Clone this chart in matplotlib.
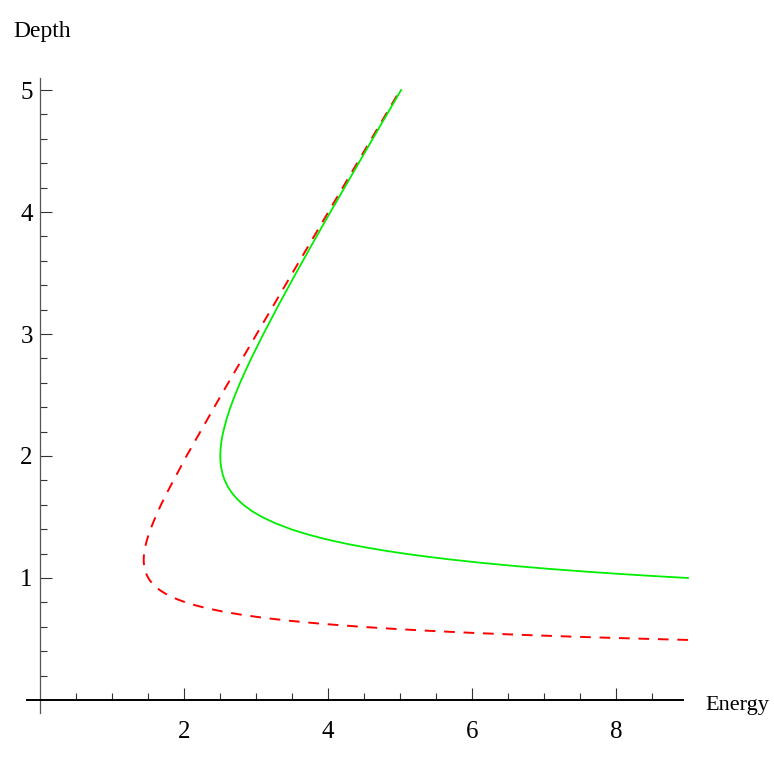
import matplotlib
matplotlib.use("Agg")
import matplotlib.pyplot as plt
from matplotlib.ticker import FixedLocator

# ---- data ----
green_energy = [9.000, 8.698, 8.411, 8.007, 7.632, 7.065, 6.564, 6.119, 5.724, 5.372,
                5.058, 4.778, 4.527, 4.302, 4.101, 3.921, 3.759, 3.613, 3.482, 3.260,
                3.080, 2.936, 2.821, 2.729, 2.658, 2.603, 2.562, 2.533, 2.514, 2.503,
                2.500, 2.503, 2.511, 2.524, 2.542, 2.586, 2.641, 2.705, 2.775, 2.851,
                2.930, 3.099, 3.322, 3.553, 3.790, 4.031, 4.520, 5.013]
green_depth = [1.000, 1.010, 1.020, 1.035, 1.050, 1.075, 1.100, 1.125, 1.150, 1.175,
               1.200, 1.225, 1.250, 1.275, 1.300, 1.325, 1.350, 1.375, 1.400, 1.450,
               1.500, 1.550, 1.600, 1.650, 1.700, 1.750, 1.800, 1.850, 1.900, 1.950,
               2.000, 2.050, 2.100, 2.150, 2.200, 2.300, 2.400, 2.500, 2.600, 2.700,
               2.800, 3.000, 3.250, 3.500, 3.750, 4.000, 4.500, 5.000]

red_energy = [9.000, 8.500, 7.901, 7.358, 6.638, 6.014, 5.472, 4.998, 4.458, 3.902,
              3.451, 3.084, 2.782, 2.535, 2.330, 2.161, 2.021, 1.904, 1.808, 1.728,
              1.662, 1.608, 1.564, 1.528, 1.500, 1.478, 1.461, 1.449, 1.442, 1.437,
              1.436, 1.437, 1.441, 1.455, 1.475, 1.501, 1.530, 1.599, 1.676, 1.760,
              2.031, 2.513, 3.006, 3.503, 4.002, 4.501, 5.001]
red_depth = [0.4923, 0.500, 0.510, 0.520, 0.535, 0.550, 0.565, 0.580, 0.600, 0.625,
             0.650, 0.675, 0.700, 0.725, 0.750, 0.775, 0.800, 0.825, 0.850, 0.875,
             0.900, 0.925, 0.950, 0.975, 1.000, 1.025, 1.050, 1.075, 1.100, 1.125,
             1.150, 1.175, 1.200, 1.250, 1.300, 1.350, 1.400, 1.500, 1.600, 1.700,
             2.000, 2.500, 3.000, 3.500, 4.000, 4.500, 5.000]

x_major = [2, 4, 6, 8]
y_major = [1, 2, 3, 4, 5]
x_minor = [0.5, 1, 1.5, 2.5, 3, 3.5, 4.5, 5, 5.5, 6.5, 7, 7.5, 8.5]
y_minor = [0.2, 0.4, 0.6, 0.8, 1.2, 1.4, 1.6, 1.8, 2.2, 2.4, 2.6, 2.8,
           3.2, 3.4, 3.6, 3.8, 4.2, 4.4, 4.6, 4.8]

plt.rcParams['lines.scale_dashes'] = False
FONT = 'Liberation Serif'

fig = plt.figure(figsize=(7.74, 7.57), dpi=100)
ax = fig.add_axes([26.0 / 774, (757 - 718.3) / 757, (691.6 - 26.0) / 774, (718.3 - 71.7) / 757])
ax.set_xlim(-0.2, 9.05)
ax.set_ylim(-0.15, 5.15)

ax.plot(red_energy, red_depth, color='#ff0000', lw=1.4, ls=(0, (7.7, 6.3)), zorder=2,
        solid_capstyle='butt', dash_capstyle='butt')
ax.plot(green_energy, green_depth, color='#00ee00', lw=1.3, zorder=3)

for s in ['top', 'right']:
    ax.spines[s].set_visible(False)
ax.spines['bottom'].set_position(('data', 0))
ax.spines['bottom'].set_bounds(-0.18, 8.93)
ax.spines['bottom'].set_linewidth(1.4)
ax.spines['bottom'].set_color('black')
ax.spines['left'].set_position(('data', 0))
ax.spines['left'].set_bounds(-0.11, 5.1)
ax.spines['left'].set_linewidth(0.9)
ax.spines['left'].set_color('#555555')

ax.xaxis.set_major_locator(FixedLocator(x_major))
ax.yaxis.set_major_locator(FixedLocator(y_major))
ax.xaxis.set_minor_locator(FixedLocator(x_minor))
ax.yaxis.set_minor_locator(FixedLocator(y_minor))
ax.tick_params(axis='both', which='major', direction='in', length=8.6, width=0.8,
               color='#333333', labelsize=18)
ax.tick_params(axis='both', which='minor', direction='in', length=5, width=0.8,
               color='#333333')
ax.tick_params(axis='x', which='major', pad=15)
ax.tick_params(axis='y', which='major', pad=5.5)
for lab in ax.get_xticklabels() + ax.get_yticklabels():
    lab.set_fontfamily(FONT)

fig.text(13 / 774, 1 - 37 / 757, 'Depth', family=FONT, fontsize=17, ha='left', va='baseline')
fig.text(705 / 774, 1 - 710 / 757, 'Energy', family=FONT, fontsize=16, ha='left', va='baseline')

fig.savefig('out.png', dpi=100)
